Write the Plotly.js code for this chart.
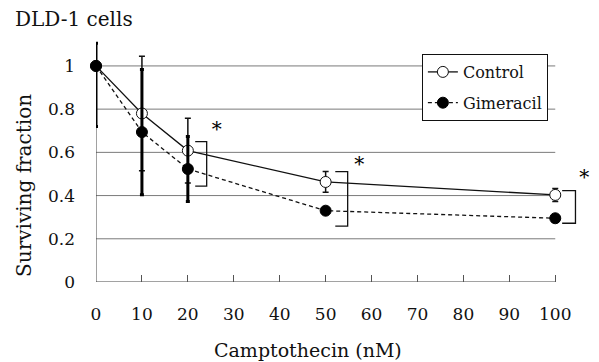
<!DOCTYPE html>
<html>
<head>
<meta charset="utf-8">
<script src="https://cdn.plot.ly/plotly-3.0.1.min.js"></script>
<style>html,body{margin:0;padding:0;background:#fff}#chart{width:599px;height:362px}</style>
</head>
<body>
<div id="chart"></div>
<script>
// Data
var doses = [0, 10, 20, 50, 100];
var controlMean = [1.0, 0.78, 0.608, 0.463, 0.403];
var controlErr = [0, 0.265, 0.15, 0.048, 0.03];
var gimeracilMean = [1.0, 0.694, 0.523, 0.33, 0.295];
var gimeracilErrPlus = [0.105, 0.29, 0.15, 0.01, 0.01];
var gimeracilErrMinus = [0.28, 0.29, 0.15, 0.01, 0.01];
var xTicks = [0, 10, 20, 30, 40, 50, 60, 70, 80, 90, 100];
var yTicks = [0, 0.2, 0.4, 0.6, 0.8, 1];
var yTickText = ['0', '0.2', '0.4', '0.6', '0.8', '1'];
// significance brackets and stars
var bracketX0 = [21.6, 52.1, 101.5];
var bracketX1 = [24.1, 54.8, 104.4];
var bracketTop = [0.65, 0.511, 0.423];
var bracketBottom = [0.444, 0.259, 0.272];
var starX = [26.3, 57.3, 106.3];
var starY = [0.70, 0.535, 0.477];

var serif = 'DejaVu Serif, Liberation Serif, serif';
var ink = '#111';

var bx = [], by = [];
for (var i = 0; i < bracketX0.length; i++) {
  bx.push(bracketX0[i], bracketX1[i], bracketX1[i], bracketX0[i], null);
  by.push(bracketTop[i], bracketTop[i], bracketBottom[i], bracketBottom[i], null);
}

var traces = [
  {
    x: doses, y: controlMean, name: 'Control', type: 'scatter', mode: 'lines+markers',
    legendgroup: 'a',
    line: {color: ink, width: 1.3},
    marker: {symbol: 'circle', size: 11, color: '#fff', line: {color: ink, width: 1}},
    error_y: {type: 'data', array: controlErr, visible: true, color: ink, thickness: 1.5, width: 3},
    cliponaxis: false
  },
  {
    x: doses, y: gimeracilMean, name: 'Gimeracil', type: 'scatter', mode: 'lines+markers',
    legendgroup: 'b',
    line: {color: ink, width: 1.3, dash: '4px,3px'},
    marker: {symbol: 'circle', size: 11, color: '#000', line: {color: '#000', width: 1}},
    error_y: {type: 'data', symmetric: false, array: gimeracilErrPlus, arrayminus: gimeracilErrMinus,
              visible: true, color: '#000', thickness: 3, width: 2},
    cliponaxis: false
  },
  {
    x: bx, y: by, type: 'scatter', mode: 'lines', showlegend: false, hoverinfo: 'skip',
    line: {color: ink, width: 1.3}, cliponaxis: false
  },
  {
    x: starX, y: starY, type: 'scatter', mode: 'text', text: starX.map(function(){return '*';}),
    textposition: 'middle center', showlegend: false, hoverinfo: 'skip',
    textfont: {family: serif, size: 20, color: '#000'}, cliponaxis: false
  }
];

// gridlines and axis lines only across 0..100 / 0..1
var shapes = [];
yTicks.forEach(function (v) {
  if (v === 0) return;
  shapes.push({type: 'line', layer: 'below', xref: 'x', yref: 'y', x0: 0, x1: 100, y0: v, y1: v,
               line: {color: '#7a7a7a', width: 1}});
});
shapes.push({type: 'line', layer: 'below', xref: 'x', yref: 'y', x0: 0, x1: 100, y0: 0, y1: 0,
             line: {color: '#444', width: 1}});
shapes.push({type: 'line', layer: 'below', xref: 'x', yref: 'y', x0: 0, x1: 0, y0: 0, y1: 1,
             line: {color: '#444', width: 1}});

var plotW = 108 * 4.59;
var layout = {
  width: 599, height: 362,
  margin: {l: 96, r: 599 - 96 - plotW, t: 40, b: 80, pad: 0},
  paper_bgcolor: '#fff', plot_bgcolor: '#fff',
  font: {family: serif, color: ink},
  title: {text: 'DLD-1 cells', x: 15/599, xanchor: 'left', xref: 'container',
          y: 1 - 19/362, yanchor: 'middle', font: {family: serif, size: 20, color: ink}},
  xaxis: {
    range: [0, 108], tickvals: xTicks, ticktext: xTicks.map(String),
    showgrid: false, zeroline: false, showline: false,
    ticks: 'inside', ticklen: 7, tickcolor: '#555', tickwidth: 1,
    ticklabelstandoff: 20,
    tickfont: {family: serif, size: 17, color: ink}
  },
  yaxis: {
    range: [0, 1.12], tickvals: yTicks, ticktext: yTickText,
    showgrid: false, zeroline: false, showline: false, ticks: '',
    ticklabelstandoff: 20,
    tickfont: {family: serif, size: 17, color: ink}
  },
  shapes: shapes,
  annotations: [
    {text: 'Camptothecin (nM)', xref: 'x', yref: 'paper', x: (308 - 96) / 4.59, y: -(350 - 282) / 242,
     xanchor: 'center', yanchor: 'middle', showarrow: false,
     font: {family: serif, size: 19, color: ink}},
    {text: 'Surviving fraction', xref: 'paper', yref: 'y', x: -(96 - 24) / plotW, y: (282 - 185) / 216,
     xanchor: 'center', yanchor: 'middle', textangle: -90, showarrow: false,
     font: {family: serif, size: 20, color: ink}}
  ],
  legend: {
    x: (421.7 - 96) / plotW, y: (282 - 54) / 242, xanchor: 'left', yanchor: 'top',
    bgcolor: '#fff', bordercolor: ink, borderwidth: 1,
    traceorder: 'grouped', tracegroupgap: 7,
    font: {family: serif, size: 16, color: ink}
  },
  showlegend: true
};

Plotly.newPlot('chart', traces, layout, {displayModeBar: false, staticPlot: true});
</script>
</body>
</html>
